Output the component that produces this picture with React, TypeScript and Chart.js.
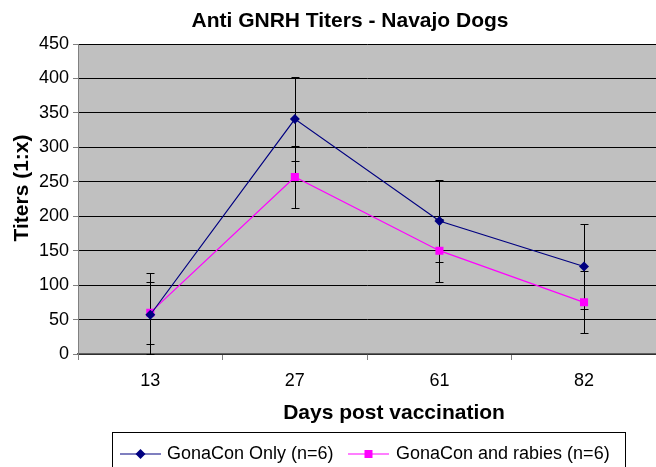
import React, { useEffect, useRef } from "react";
import { Chart, registerables } from "chart.js";

Chart.register(...registerables);

const categories = ["13", "27", "61", "82"];
const gonaconOnly = [57, 341, 193, 127];
const gonaconOnlyErr = [61, 61, 60, 61];
const gonaconRabies = [60, 257, 150, 75];
const gonaconRabiesErr = [45, 45, 46, 45];
const yTicks = [0, 50, 100, 150, 200, 250, 300, 350, 400, 450];

const chartTitle = "Anti GNRH Titers - Navajo Dogs";
const xTitle = "Days post vaccination";
const yTitle = "Titers (1:x)";
const seriesNames = ["GonaCon Only (n=6)", "GonaCon and rabies (n=6)"];

const FONT = "'Liberation Sans', Arial, sans-serif";
const BLUE = "#000080";
const PINK = "#FF00FF";

const errors = [gonaconOnlyErr, gonaconRabiesErr];

const bgPlugin = {
  id: "plotBg",
  beforeDraw(chart: any) {
    const { ctx, chartArea } = chart;
    ctx.save();
    ctx.fillStyle = "#ffffff";
    ctx.fillRect(0, 0, chart.width, chart.height);
    ctx.fillStyle = "#C0C0C0";
    ctx.fillRect(chartArea.left, chartArea.top, chartArea.right - chartArea.left, chartArea.bottom - chartArea.top);
    ctx.restore();
  },
};

const errorPlugin = {
  id: "errorBars",
  beforeDatasetsDraw(chart: any) {
    const { ctx } = chart;
    const yScale = chart.scales.y;
    ctx.save();
    ctx.strokeStyle = "#000000";
    ctx.lineWidth = 1;
    chart.data.datasets.forEach((ds: any, di: number) => {
      const meta = chart.getDatasetMeta(di);
      meta.data.forEach((pt: any, i: number) => {
        const v = ds.data[i];
        const e = errors[di][i];
        const x = Math.round(pt.x) + 0.5;
        const yTop = Math.round(yScale.getPixelForValue(v + e)) + 0.5;
        const yBot = Math.round(yScale.getPixelForValue(Math.max(0, v - e))) + 0.5;
        ctx.beginPath();
        ctx.moveTo(x, yTop);
        ctx.lineTo(x, yBot);
        ctx.moveTo(x - 4, yTop);
        ctx.lineTo(x + 4, yTop);
        ctx.moveTo(x - 4, yBot);
        ctx.lineTo(x + 4, yBot);
        ctx.stroke();
      });
    });
    ctx.restore();
  },
};

const textPlugin = {
  id: "texts",
  afterDraw(chart: any) {
    const { ctx } = chart;
    ctx.save();
    ctx.fillStyle = "#000000";
    ctx.textAlign = "center";
    ctx.textBaseline = "middle";
    ctx.font = `bold 21px ${FONT}`;
    ctx.fillText(chartTitle, 350, 21);
    ctx.fillText(xTitle, 394, 413);
    ctx.translate(22, 188);
    ctx.rotate(-Math.PI / 2);
    ctx.fillText(yTitle, 0, 0);
    ctx.restore();

    // legend
    ctx.save();
    ctx.strokeStyle = "#000000";
    ctx.lineWidth = 1;
    ctx.strokeRect(112.5, 432.5, 513, 40);
    ctx.font = `18px ${FONT}`;
    ctx.textBaseline = "middle";
    ctx.textAlign = "left";
    const ly = 454;
    // series 1
    ctx.strokeStyle = BLUE;
    ctx.lineWidth = 1.2;
    ctx.beginPath();
    ctx.moveTo(120, ly);
    ctx.lineTo(161, ly);
    ctx.stroke();
    ctx.fillStyle = BLUE;
    ctx.beginPath();
    ctx.moveTo(140.5, ly - 5);
    ctx.lineTo(145.5, ly);
    ctx.lineTo(140.5, ly + 5);
    ctx.lineTo(135.5, ly);
    ctx.closePath();
    ctx.fill();
    ctx.fillStyle = "#000";
    ctx.fillText(seriesNames[0], 167, ly);
    // series 2
    ctx.strokeStyle = PINK;
    ctx.beginPath();
    ctx.moveTo(348, ly);
    ctx.lineTo(389, ly);
    ctx.stroke();
    ctx.fillStyle = PINK;
    ctx.fillRect(364.5, ly - 4, 8, 8);
    ctx.fillStyle = "#000";
    ctx.fillText(seriesNames[1], 396, ly);
    ctx.restore();
  },
};

export default function App() {
  const ref = useRef<HTMLCanvasElement | null>(null);
  useEffect(() => {
    document.body.style.margin = "0";
    if (!ref.current) return;
    const chart = new Chart(ref.current, {
      type: "line",
      data: {
        labels: categories,
        datasets: [
          {
            label: seriesNames[0],
            data: gonaconOnly,
            borderColor: BLUE,
            backgroundColor: BLUE,
            borderWidth: 1.2,
            pointStyle: "rectRot",
            pointRadius: 5,
            pointBorderWidth: 0,
            tension: 0,
          },
          {
            label: seriesNames[1],
            data: gonaconRabies,
            borderColor: PINK,
            backgroundColor: PINK,
            borderWidth: 1.2,
            pointStyle: "rect",
            pointRadius: 5.7,
            pointBorderWidth: 0,
            tension: 0,
          },
        ],
      },
      options: {
        animation: false,
        responsive: false,
        devicePixelRatio: 1,
        layout: { padding: { top: 44, right: 1, left: 0, bottom: 0 } },
        plugins: {
          legend: { display: false },
          title: { display: false },
          tooltip: { enabled: false },
        },
        scales: {
          x: {
            type: "category",
            offset: true,
            grid: {
              offset: true,
              drawOnChartArea: false,
              drawTicks: true,
              tickLength: 6,
              tickColor: "#808080",
            },
            border: { display: true, color: "#606060", width: 1.5 },
            ticks: {
              color: "#000",
              font: { family: FONT, size: 18 },
              padding: 10,
              maxRotation: 0,
            },
            afterFit(scale: any) {
              scale.height = 113;
            },
          },
          y: {
            min: 0,
            max: 450,
            afterBuildTicks(scale: any) {
              scale.ticks = yTicks.map((v) => ({ value: v }));
            },
            grid: {
              color: "#000000",
              lineWidth: 1,
              drawTicks: true,
              tickLength: 5,
              tickColor: "#808080",
            },
            border: { display: true, color: "#808080", width: 1 },
            ticks: {
              color: "#000",
              font: { family: FONT, size: 18 },
              padding: 4,
            },
            afterFit(scale: any) {
              scale.width = 78;
            },
          },
        },
      },
      plugins: [bgPlugin, errorPlugin, textPlugin],
    } as any);
    return () => chart.destroy();
  }, []);
  return (
    <div style={{ width: 656, height: 467, overflow: "hidden", position: "relative" }}>
      <canvas ref={ref} width={662} height={467} style={{ display: "block", width: 662, height: 467 }} />
    </div>
  );
}
